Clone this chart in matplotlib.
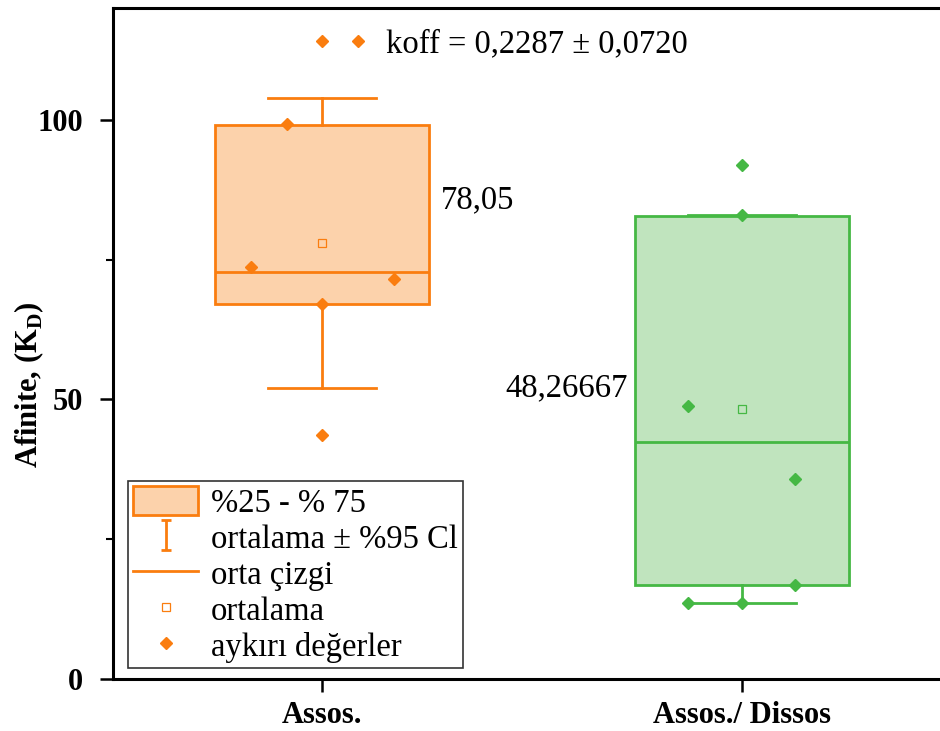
import matplotlib
matplotlib.use("Agg")
import matplotlib.pyplot as plt
from matplotlib.lines import Line2D
from matplotlib.patches import Patch
from matplotlib.path import Path

plt.rcParams['font.family'] = ['Liberation Serif', 'DejaVu Serif']
plt.rcParams['mathtext.fontset'] = 'custom'
plt.rcParams['mathtext.rm'] = 'Liberation Serif'
plt.rcParams['mathtext.bf'] = 'Liberation Serif:bold'

# ---- data -------------------------------------------------------------
categories = ["Assos.", "Assos./ Dissos"]
q1 = [67.1, 16.8]
median = [72.7, 42.3]
q3 = [99.1, 82.86]
means = [78.05, 48.26667]
mean_decimals = [2, 5]
ci_low = [52.1, 13.6]
ci_high = [103.9, 82.93]
points = [
    [99.3, 73.6, 71.6, 67.1, 43.6],
    [92.0, 82.9, 48.75, 35.7, 16.8, 13.6, 13.6],
]
point_offsets = [
    [-0.083, -0.169, 0.171, 0.0, 0.0],
    [0.0, 0.0, -0.129, 0.126, 0.126, -0.129, 0.0],
]
koff_label = "koff = 0,2287 ± 0,0720"
legend_labels = ["%25 - % 75", "ortalama ± %95 Cl", "orta çizgi",
                 "ortalama", "aykırı değerler"]
yticks = [0, 50, 100]

# ---- style ------------------------------------------------------------
edge_colors = ["#FA7D0F", "#45B844"]
fill_colors = ["#FCD2AB", "#C0E4BE"]
text_size = 23.5
bold_size = 22

fig = plt.figure(figsize=(9.40, 7.31), dpi=100)
ax = fig.add_axes([113 / 940, 52 / 731, 832 / 940, 671 / 731])

positions = [1, 2]
for i, pos in enumerate(positions):
    stats = [dict(med=median[i], q1=q1[i], q3=q3[i], whislo=ci_low[i],
                  whishi=ci_high[i], mean=means[i], fliers=[])]
    c = edge_colors[i]
    ax.bxp(stats, positions=[pos], widths=0.51, capwidths=0.257,
           patch_artist=True, showmeans=True, showfliers=False,
           boxprops=dict(facecolor=fill_colors[i], edgecolor=c, linewidth=2.0),
           medianprops=dict(color=c, linewidth=2.0),
           whiskerprops=dict(color=c, linewidth=2.0),
           capprops=dict(color=c, linewidth=2.0),
           meanprops=dict(marker='s', markerfacecolor='none',
                          markeredgecolor=c, markersize=6,
                          markeredgewidth=0.9))
    xs = [pos + o for o in point_offsets[i]]
    ax.plot(xs, points[i], ls='none', marker='D', color=c,
            markersize=6.5, zorder=5)

# mean value labels beside the boxes
mean_texts = [f"{m:.{d}f}".replace('.', ',') for m, d in zip(means, mean_decimals)]
ax.text(1.283, 85.7, mean_texts[0], ha='left', va='center', fontsize=text_size)
ax.text(1.729, 52.0, mean_texts[1], ha='right', va='center', fontsize=text_size)

ax.set_xlim(0.5024, 2.483)
ax.set_ylim(0, 120)
ax.set_xticks(positions)
ax.set_xticklabels(categories, fontsize=bold_size, fontweight='bold')
ax.set_yticks(yticks)
ax.set_yticklabels([str(v) for v in yticks], fontsize=bold_size, fontweight='bold')
ax.set_yticks([25, 75], minor=True)
ax.tick_params(axis='both', which='major', direction='out', length=9.5,
               width=1.8, pad=12)
ax.tick_params(axis='x', pad=6)
ax.tick_params(axis='y', which='minor', direction='out', length=5, width=1.5)
ax.set_ylabel(r"Afinite, (K$_{\mathbf{D}}$)", fontsize=bold_size,
              fontweight='bold')
ax.yaxis.set_label_coords(-0.081, 0.438)
for side in ['left', 'bottom', 'top']:
    ax.spines[side].set_linewidth(2.2)
ax.spines['right'].set_visible(False)

# koff note drawn as a legend entry with two markers
koff_handle = Line2D([], [], ls='none', marker='D', color=edge_colors[0],
                     markersize=6.5)
leg_top = ax.legend([koff_handle], [koff_label], numpoints=2,
                    loc='center left', frameon=False, fontsize=text_size,
                    handlelength=1.7, handletextpad=0.58,
                    bbox_to_anchor=(312 / 940, 1 - 44 / 731),
                    bbox_transform=fig.transFigure, borderaxespad=0,
                    borderpad=0)
ax.add_artist(leg_top)

# legend for the box elements
ci_marker = Path([(-0.35, 1), (0.35, 1), (0, 1), (0, -1), (-0.35, -1), (0.35, -1)],
                 [Path.MOVETO, Path.LINETO, Path.MOVETO, Path.LINETO,
                  Path.MOVETO, Path.LINETO])
oc = edge_colors[0]
handles = [
    Patch(facecolor=fill_colors[0], edgecolor=oc, linewidth=2.0),
    Line2D([], [], ls='none', marker=ci_marker, markersize=21.5,
           markeredgecolor=oc, markeredgewidth=2.0, fillstyle='none'),
    Line2D([], [], color=oc, linewidth=2.0),
    Line2D([], [], ls='none', marker='s', markerfacecolor='none',
           markeredgecolor=oc, markersize=6, markeredgewidth=0.9),
    Line2D([], [], ls='none', marker='D', color=oc, markersize=6.5),
]
leg = ax.legend(handles, legend_labels, loc='upper left',
                bbox_to_anchor=(128 / 940, 1 - 481 / 731),
                bbox_transform=fig.transFigure, borderaxespad=0,
                fontsize=text_size, fancybox=False, framealpha=1,
                edgecolor='#333333', handlelength=2.0, handleheight=1.0,
                labelspacing=0.1, handletextpad=0.4, borderpad=0.15)
leg.get_frame().set_linewidth(1.2)

fig.savefig("out.png", dpi=100)
